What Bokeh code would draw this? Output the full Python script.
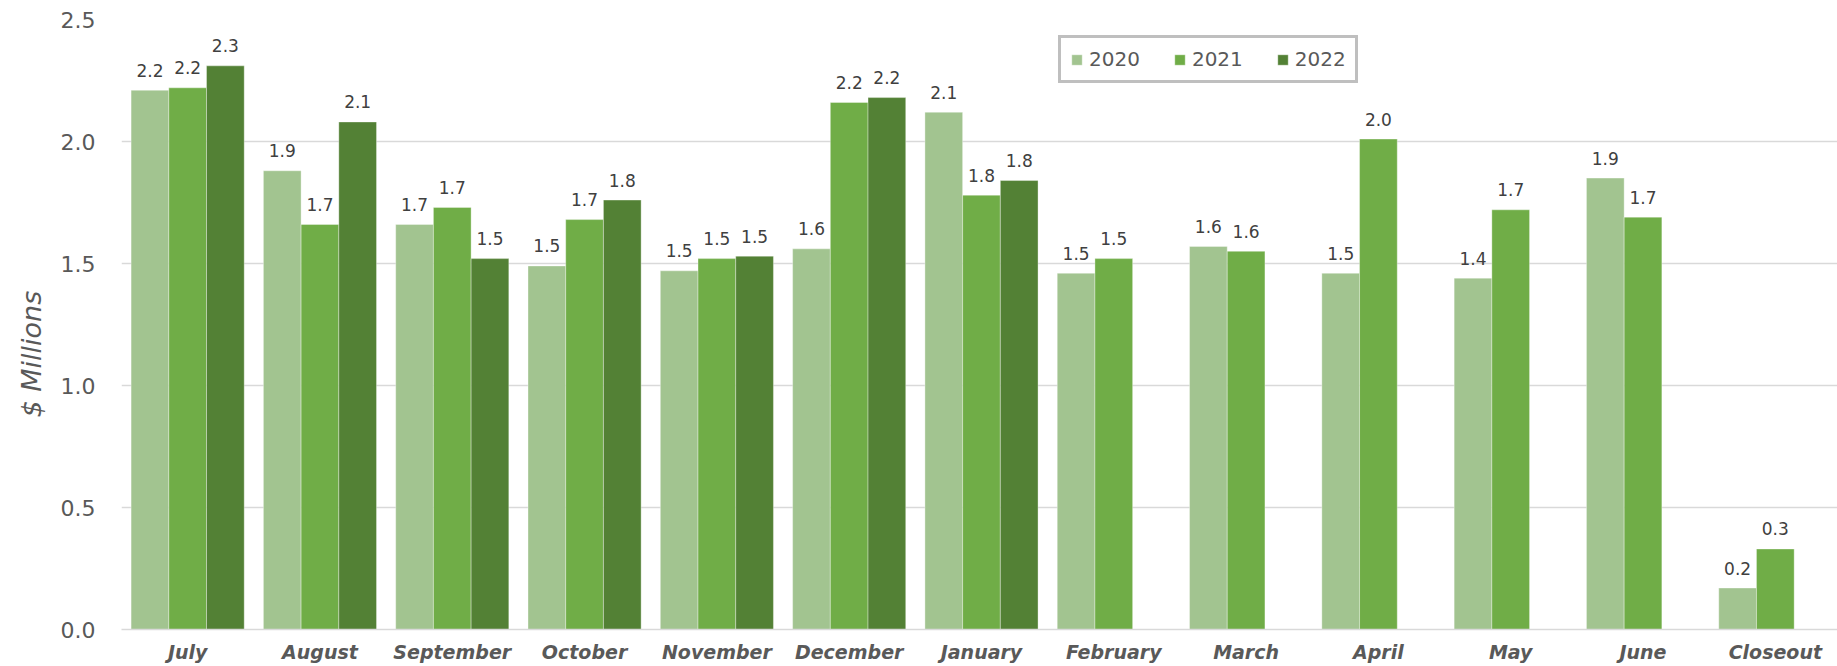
from bokeh.plotting import figure
from bokeh.embed import file_html
from bokeh.resources import INLINE
from bokeh.models import (ColumnDataSource, FixedTicker, SingleIntervalTicker,
                          NumeralTickFormatter, Range1d, Title)
from bokeh.transform import dodge

months = ["July", "August", "September", "October", "November", "December",
          "January", "February", "March", "April", "May", "June", "Closeout"]
v2020 = [2.21, 1.88, 1.66, 1.49, 1.47, 1.56, 2.12, 1.46, 1.57, 1.46, 1.44, 1.85, 0.17]
v2021 = [2.22, 1.66, 1.73, 1.68, 1.52, 2.16, 1.78, 1.52, 1.55, 2.01, 1.72, 1.69, 0.33]
v2022 = [2.31, 2.08, 1.52, 1.76, 1.53, 2.18, 1.84]
years = ["2020", "2021", "2022"]
colors = ["#A2C490", "#70AD47", "#538135"]
y_title = "$ Millions"

series = [v2020, v2021, v2022]
bw = 0.285
offsets = [-bw, 0.0, bw]

p = figure(width=1837, height=666, output_backend="svg", toolbar_location=None,
           x_range=Range1d(-0.5, 12.47), y_range=Range1d(0, 2.5),
           min_border_top=19, min_border_left=121, min_border_right=0,
           min_border_bottom=37)
p.background_fill_color = "white"
p.border_fill_color = "white"
p.outline_line_color = None

font = "DejaVu Sans"
for yr, vals, col, off in zip(years, series, colors, offsets):
    src = ColumnDataSource(dict(x=list(range(len(vals))), top=vals,
                                lab=[f"{v:.1f}" for v in vals]))
    p.vbar(x=dodge("x", off), top="top", bottom=0, width=bw, source=src,
           fill_color=col, line_color="white", line_alpha=0.35, line_width=1,
           legend_label=yr)
    p.text(x=dodge("x", off), y="top", text="lab", source=src,
           text_align="center", text_baseline="alphabetic", y_offset=-20,
           text_font_size="17px", text_font={"value": font},
           text_color="#404040")

# axes
p.xaxis.ticker = FixedTicker(ticks=list(range(len(months))))
p.xaxis.major_label_overrides = {i: m for i, m in enumerate(months)}
p.xaxis.major_label_text_font = font
p.xaxis.major_label_text_font_style = "bold italic"
p.xaxis.major_label_text_font_size = "19px"
p.xaxis.major_label_text_color = "#595959"
p.xaxis.major_label_standoff = 11
p.xaxis.major_tick_out = 0
p.xaxis.major_tick_in = 0
p.xaxis.major_tick_line_color = None
p.xaxis.minor_tick_line_color = None
p.xaxis.axis_line_color = "#D9D9D9"
p.xaxis.axis_line_width = 1.5

p.yaxis.ticker = SingleIntervalTicker(interval=0.5)
p.yaxis.formatter = NumeralTickFormatter(format="0.0")
p.yaxis.major_label_text_font = font
p.yaxis.major_label_text_font_size = "22px"
p.yaxis.major_label_text_color = "#595959"
p.yaxis.major_label_standoff = 22
p.yaxis.major_tick_out = 0
p.yaxis.major_tick_in = 0
p.yaxis.major_tick_line_color = None
p.yaxis.minor_tick_line_color = None
p.yaxis.axis_line_color = None

# y-axis title as a side title, so it can sit a little below the frame centre
p.add_layout(Title(text=y_title, align="left", offset=212, standoff=22,
                   text_font=font, text_font_style="italic",
                   text_font_size="27px", text_color="#595959"), "left")

p.xgrid.grid_line_color = None
p.ygrid.grid_line_color = "#D9D9D9"
p.ygrid.grid_line_width = 1.5

# legend
lg = p.legend[0]
lg.orientation = "horizontal"
lg.location = (937, 546)
lg.glyph_width = 13
lg.glyph_height = 13
lg.label_standoff = 6
lg.spacing = 33
lg.padding = 9
lg.label_text_font = font
lg.label_text_font_size = "20px"
lg.label_text_color = "#595959"
lg.border_line_color = "#7F7F7F"
lg.border_line_width = 3
lg.background_fill_color = "white"
lg.background_fill_alpha = 1.0

open("out.html", "w").write(file_html(p, INLINE))
